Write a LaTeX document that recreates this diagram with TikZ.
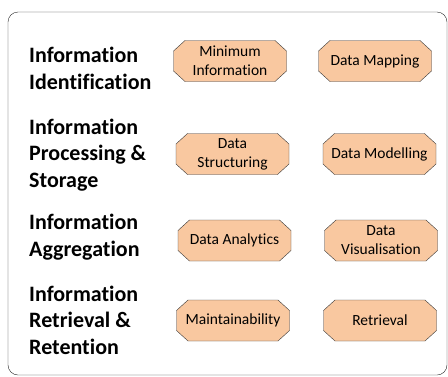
\documentclass[tikz,border=0pt]{standalone}
\usepackage{fontspec}
\setmainfont{Carlito}[Ligatures=CommonOff]

\definecolor{boxfill}{RGB}{249,200,160}
\definecolor{boxline}{RGB}{55,55,55}

\tikzset{
    stage/.style={anchor=base west, align=left, inner sep=0pt,
        font=\fontsize{22}{26.5}\selectfont\bfseries},
    task/.style={rectangle, minimum width=114pt, minimum height=42pt,
        inner sep=0pt, align=center, font=\fontsize{15.5}{19}\selectfont,
        path picture={
            \filldraw[draw=boxline, fill=boxfill]
                ([xshift=12pt, yshift=-0.5pt]path picture bounding box.north west)
                -- ([xshift=-12pt, yshift=-0.5pt]path picture bounding box.north east)
                -- ([xshift=-0.5pt, yshift=-11pt]path picture bounding box.north east)
                -- ([xshift=-0.5pt, yshift=11pt]path picture bounding box.south east)
                -- ([xshift=-12pt, yshift=0.5pt]path picture bounding box.south east)
                -- ([xshift=12pt, yshift=0.5pt]path picture bounding box.south west)
                -- ([xshift=0.5pt, yshift=11pt]path picture bounding box.south west)
                -- ([xshift=0.5pt, yshift=-11pt]path picture bounding box.north west)
                -- cycle;
        }}
}

\begin{document}
\begin{tikzpicture}[x=1pt, y=-1pt]
        \useasboundingbox (0, 0) rectangle (448, 376);
        % 外框
        \draw[rounded corners=10pt, black!85] (8, 12) rectangle (447, 375);
        % 左侧阶段 (base = 最后一行的基线)
        \node[stage] (ident) at (29, 89) {Information\\Identification};
        \node[stage] (proc) at (29, 187) {Information\\Processing \&\\Storage};
        \node[stage] (aggr) at (29, 256) {Information\\Aggregation};
        \node[stage] (retr) at (29, 354) {Information\\Retrieval \&\\Retention};
        % 右侧任务
        \node[task] (minInfo) at (230, 61) {Minimum\\Information};
        \node[task] (dataMap) at (375, 61) {Data Mapping};
        \node[task] (dataStruct) at (232.5, 154) {Data\\Structuring};
        \node[task] (dataModel) at (379.5, 154) {Data Modelling};
        \node[task] (dataAnal) at (234.5, 240.5) {Data Analytics};
        \node[task] (dataVis) at (381, 240.5) {Data\\Visualisation};
        \node[task] (maint) at (233, 320.5) {Maintainability};
        \node[task] (retrieval) at (380, 320.5) {Retrieval};
    \end{tikzpicture}
\end{document}
